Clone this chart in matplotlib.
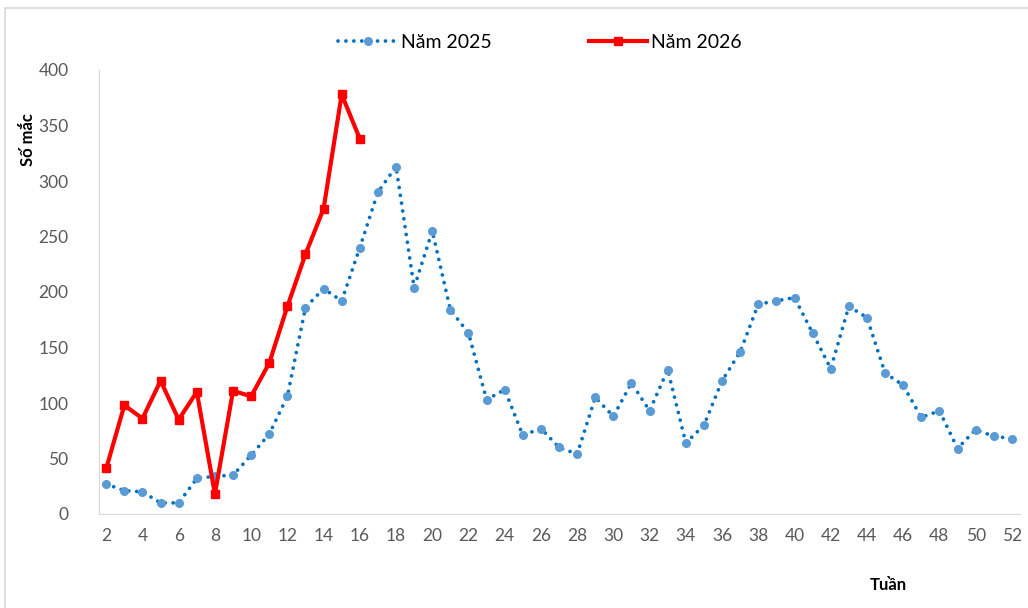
import matplotlib.pyplot as plt
from matplotlib.patches import Rectangle

plt.rcParams['font.family'] = ['Lato', 'DejaVu Sans']

weeks_2025 = list(range(2, 53))
cases_2025 = [27, 21, 20, 10, 10, 32, 34, 35, 53, 72, 106, 186, 203, 192, 240, 290,
              313, 204, 255, 184, 163, 103, 112, 71, 77, 60, 54, 105, 88, 118, 93,
              130, 64, 80, 120, 146, 189, 192, 195, 163, 131, 187, 177, 127, 116,
              87, 93, 59, 76, 70, 68]

weeks_2026 = list(range(2, 17))
cases_2026 = [41, 98, 86, 120, 85, 110, 18, 111, 106, 136, 187, 234, 275, 378, 338]

xticks = list(range(2, 53, 2))
yticks = [0, 50, 100, 150, 200, 250, 300, 350, 400]

fig = plt.figure(figsize=(10.28, 6.08), dpi=100)
ax = fig.add_axes([99/1028, 1 - 514/608, (1020-99)/1028, (514-70)/608])

# outer chart frame (runs off the right and bottom edge)
fig.patches.append(Rectangle((5/1028, -0.1), 1.2, 1 - 8/608 + 0.1, transform=fig.transFigure,
                             fill=False, edgecolor='#d9d9d9', linewidth=1.2))

ax.plot(weeks_2025, cases_2025, color='#0070C0', linestyle=(0, (0.01, 2.1)), linewidth=2.7,
        dash_capstyle='round', marker='o', markersize=5.5, markerfacecolor='#5B9BD5',
        markeredgecolor='#5B9BD5', label='Năm 2025')
ax.plot(weeks_2026, cases_2026, color='#FF0000', linewidth=3, marker='s', markersize=5.8,
        markerfacecolor='#FF0000', markeredgecolor='#FF0000', label='Năm 2026')

ax.set_xlim(1.6, 52.45)
ax.set_ylim(0, 400)
ax.set_xticks(xticks)
ax.set_yticks(yticks)
ax.tick_params(length=0, labelsize=12.5, colors='#595959', pad=10)
ax.tick_params(axis='y', pad=22)
for s in ['top', 'right']:
    ax.spines[s].set_visible(False)
for s in ['left', 'bottom']:
    ax.spines[s].set_color('#d9d9d9')

fig.text(28/1028, 1 - 140/608, 'Số mắc', rotation=90, ha='center', va='center',
         fontsize=12, fontweight='bold')
fig.text(888/1028, 1 - 585/608, 'Tuần', ha='center', va='center',
         fontsize=12, fontweight='bold')

fig.legend(loc='center', bbox_to_anchor=(540/1028, 1 - 42/608), ncol=2, frameon=False,
           fontsize=14, handlelength=3, columnspacing=5, handletextpad=0.2)

fig.savefig('out.png', dpi=100)
